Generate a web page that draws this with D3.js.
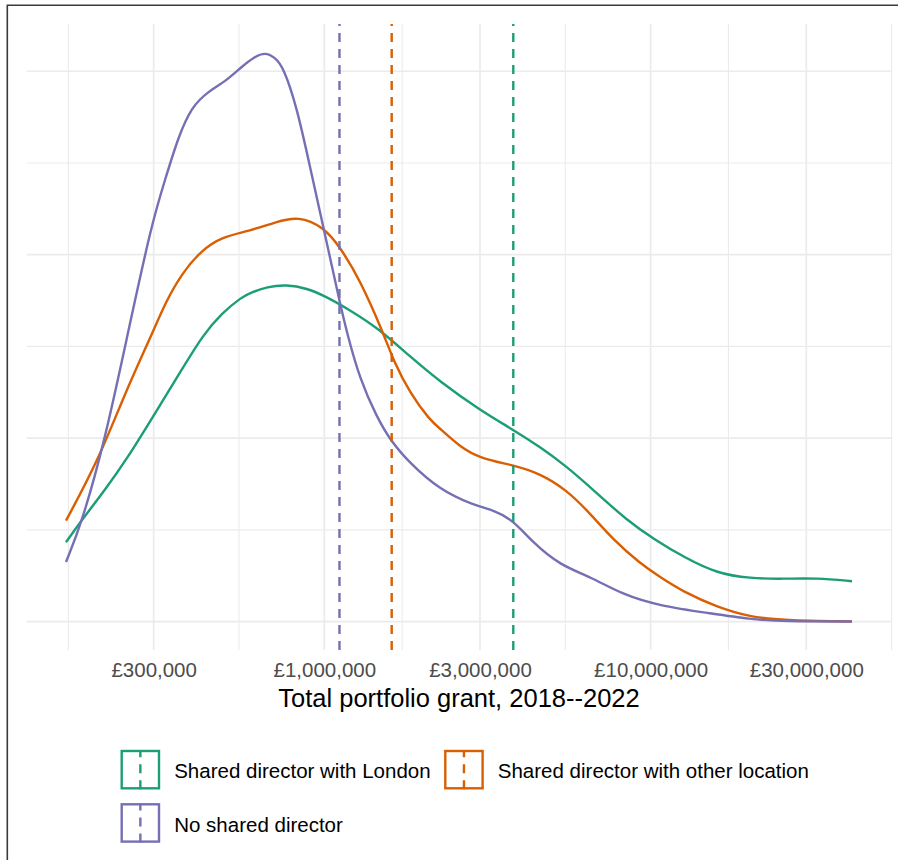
<!DOCTYPE html>
<html>
<head>
<meta charset="utf-8">
<script src="https://cdn.jsdelivr.net/npm/d3@7"></script>
<style>
  html, body { margin: 0; padding: 0; background: #ffffff; }
  svg { display: block; }
  text { font-family: "Liberation Sans", Arial, Helvetica, sans-serif; }
</style>
</head>
<body>
<script>
// ---- Data: density of total portfolio grant (log scale) by group ----
const seriesNames = ["Shared director with London", "Shared director with other location", "No shared director"];
const seriesColors = ["#1b9e77", "#d95f02", "#7570b3"];

// [grant (£), density]
const londonCurve = [
  [161600, 0.173], [180500, 0.221], [212800, 0.287], [250800, 0.359], [302900, 0.454],
  [365600, 0.549], [424900, 0.625], [484900, 0.672], [558400, 0.708], [600300, 0.718],
  [666000, 0.730], [766900, 0.735], [883300, 0.727], [1017000, 0.708], [1199000, 0.679],
  [1461000, 0.640], [1830000, 0.578], [2262000, 0.523], [3001000, 0.461], [3795000, 0.418],
  [4581000, 0.381], [5533000, 0.338], [6674000, 0.287], [8447000, 0.221], [10320000, 0.178],
  [12600000, 0.141], [15940000, 0.105], [20170000, 0.094], [25510000, 0.093], [32280000, 0.095],
  [41420000, 0.088]
];
const otherCurve = [
  [161600, 0.220], [203000, 0.352], [245000, 0.498], [296500, 0.627], [325000, 0.694],
  [365600, 0.759], [421000, 0.810], [484900, 0.839], [592000, 0.852], [714600, 0.872],
  [832400, 0.884], [992900, 0.861], [1117000, 0.817], [1287000, 0.745], [1517000, 0.629],
  [1627000, 0.570], [1830000, 0.498], [2108000, 0.439], [2262000, 0.421], [2606000, 0.381],
  [3001000, 0.356], [3795000, 0.341], [4581000, 0.323], [5533000, 0.287], [6521000, 0.236],
  [7687000, 0.178], [9280000, 0.127], [10690000, 0.097], [12600000, 0.065], [15940000, 0.032],
  [20170000, 0.010], [25450000, 0.003], [41420000, 0.000]
];
const noneCurve = [
  [161600, 0.130], [180500, 0.214], [212800, 0.396], [249400, 0.625], [295800, 0.868],
  [325000, 0.963], [356900, 1.057], [392300, 1.123], [441000, 1.156], [496300, 1.177],
  [558400, 1.210], [613200, 1.232], [658100, 1.241], [703800, 1.231], [748600, 1.210],
  [823100, 1.123], [904000, 0.992], [992900, 0.861], [1117000, 0.694], [1174000, 0.629],
  [1287000, 0.527], [1447000, 0.447], [1590000, 0.396], [1830000, 0.345], [2262000, 0.287],
  [2862000, 0.254], [3296000, 0.243], [3795000, 0.221], [4371000, 0.171], [5277000, 0.123],
  [6521000, 0.098], [8246000, 0.058], [10690000, 0.034], [15210000, 0.018], [20170000, 0.005],
  [25450000, 0.000], [41420000, 0.000]
];
const curves = [londonCurve, otherCurve, noneCurve];

// Group averages marked with dashed vertical lines
const groupMeans = [3795000, 1609000, 1113000];

// Axis ticks
const xTicks = [300000, 1000000, 3000000, 10000000, 30000000];
const xTickLabels = ["£300,000", "£1,000,000", "£3,000,000", "£10,000,000", "£30,000,000"];
const yTicks = [0, 0.4, 0.8, 1.2];
const axisTitle = "Total portfolio grant, 2018--2022";

// ---- Layout ----
const W = 898, H = 860;
const panel = { left: 26.7, right: 891.3, top: 24, bottom: 650 };

const svg = d3.select("body").append("svg")
  .attr("width", W).attr("height", H);

svg.append("rect").attr("width", W).attr("height", H).attr("fill", "#ffffff");

// frame along the left and top edge
svg.append("path")
  .attr("d", `M7.3,${H} L7.3,5.3 L${W},5.3`)
  .attr("fill", "none").attr("stroke", "#3a3a3a").attr("stroke-width", 1.6);

// ---- Scales (5% expansion on both axes) ----
const allX = curves.flat().map(d => d[0]);
const lmin = Math.log10(d3.min(allX)), lmax = Math.log10(d3.max(allX));
const lpad = (lmax - lmin) * 0.05;
const x = d3.scaleLog()
  .domain([Math.pow(10, lmin - lpad), Math.pow(10, lmax + lpad)])
  .range([panel.left, panel.right]);

const ymax = d3.max(curves.flat(), d => d[1]);
const y = d3.scaleLinear()
  .domain([-ymax * 0.05, ymax * 1.05])
  .range([panel.bottom, panel.top]);

// ---- Grid ----
const grid = svg.append("g");
const gridColor = "#ebebeb";

// minor x breaks: midpoints (in log space) between majors, extended one step each side
const lb = xTicks.map(v => Math.log10(v));
const step = lb[1] - lb[0];
const ext = [lb[0] - step, ...lb, lb[lb.length - 1] + step];
const [d0, d1] = x.domain().map(Math.log10);
const xMinor = d3.pairs(ext).map(([a, b]) => (a + b) / 2)
  .filter(v => v >= d0 - 0.01 && v <= d1 + 0.01)
  .map(v => Math.pow(10, v));

const yStep = yTicks[1] - yTicks[0];
const yMinor = d3.range(yTicks[0] + yStep / 2, ymax * 1.05, yStep);

grid.selectAll(".yminor").data(yMinor).join("line")
  .attr("x1", panel.left).attr("x2", panel.right)
  .attr("y1", d => y(d)).attr("y2", d => y(d))
  .attr("stroke", gridColor).attr("stroke-width", 1.1);
grid.selectAll(".xminor").data(xMinor).join("line")
  .attr("y1", panel.top).attr("y2", panel.bottom)
  .attr("x1", d => x(d)).attr("x2", d => x(d))
  .attr("stroke", gridColor).attr("stroke-width", 1.1);
grid.selectAll(".ymajor").data(yTicks).join("line")
  .attr("x1", panel.left).attr("x2", panel.right)
  .attr("y1", d => y(d)).attr("y2", d => y(d))
  .attr("stroke", gridColor).attr("stroke-width", 1.7);
grid.selectAll(".xmajor").data(xTicks).join("line")
  .attr("y1", panel.top).attr("y2", panel.bottom)
  .attr("x1", d => x(d)).attr("x2", d => x(d))
  .attr("stroke", gridColor).attr("stroke-width", 1.7);

// ---- Density curves ----
const line = d3.line()
  .x(d => x(d[0]))
  .y(d => y(d[1]))
  .curve(d3.curveBasis);

svg.append("g").selectAll("path").data(curves).join("path")
  .attr("d", line)
  .attr("fill", "none")
  .attr("stroke", (d, i) => seriesColors[i])
  .attr("stroke-width", 2.4)
  .attr("stroke-linejoin", "round");

// ---- Dashed mean lines ----
const dash = "9,7";
svg.append("g").selectAll("line").data(groupMeans).join("line")
  .attr("x1", d => x(d)).attr("x2", d => x(d))
  .attr("y1", panel.bottom).attr("y2", panel.top)
  .attr("stroke", (d, i) => seriesColors[i])
  .attr("stroke-width", 2.4)
  .attr("stroke-dasharray", dash);

// ---- X axis (labels only) ----
const xAxis = d3.axisBottom(x)
  .tickValues(xTicks)
  .tickFormat((d, i) => xTickLabels[i])
  .tickSize(0).tickPadding(0);
const gx = svg.append("g").attr("transform", `translate(0,${panel.bottom})`).call(xAxis);
gx.select(".domain").remove();
gx.selectAll("text")
  .attr("y", 27).attr("dy", null)
  .attr("fill", "#4d4d4d")
  .style("font-size", "20.5px")
  .style("font-family", '"Liberation Sans", Arial, sans-serif');

svg.append("text")
  .attr("x", (panel.left + panel.right) / 2).attr("y", 706.5)
  .attr("text-anchor", "middle")
  .attr("fill", "#000000")
  .style("font-size", "25.5px")
  .text(axisTitle);

// ---- Legend ----
const keySize = 39.3;
const legendPos = [[120.7, 750], [444.3, 750], [120.7, 803.3]];
const lg = svg.append("g").selectAll("g").data(seriesNames).join("g")
  .attr("transform", (d, i) => `translate(${legendPos[i][0]},${legendPos[i][1]})`);

lg.append("line")
  .attr("x1", keySize / 2).attr("x2", keySize / 2)
  .attr("y1", keySize).attr("y2", 0)
  .attr("stroke", (d, i) => seriesColors[i])
  .attr("stroke-width", 2.4)
  .attr("stroke-dasharray", dash);
lg.append("rect")
  .attr("x", 1).attr("y", 1)
  .attr("width", keySize - 2).attr("height", keySize - 2)
  .attr("fill", "none")
  .attr("stroke", (d, i) => seriesColors[i])
  .attr("stroke-width", 2.4);
lg.append("text")
  .attr("x", 53.5).attr("y", 28.3)
  .attr("fill", "#000000")
  .style("font-size", "20.5px")
  .text(d => d);
</script>
</body>
</html>
